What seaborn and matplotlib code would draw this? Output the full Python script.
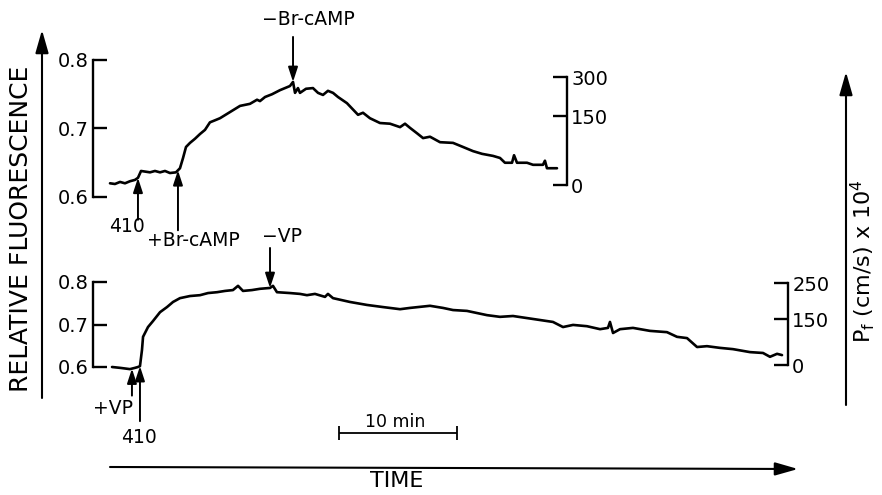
import numpy as np
import matplotlib
matplotlib.use('Agg')
import matplotlib.pyplot as plt
import seaborn as sns

sns.set_theme(style='white')
plt.rcParams['font.family'] = ['DejaVu Sans']
plt.rcParams['text.color'] = 'black'
plt.rcParams['xtick.color'] = 'black'
plt.rcParams['ytick.color'] = 'black'

# Top trace: Br-cAMP experiment (time in min, relative fluorescence)
top_time = [0.00, 0.42, 0.85, 1.27, 1.69, 2.12, 2.37, 2.63, 3.39, 3.81, 4.24, 4.66, 5.08, 5.59,
            5.93, 6.19, 6.44, 6.78, 7.20, 7.63, 8.05, 8.47, 8.90, 9.32, 10.17, 11.02, 11.86,
            12.46, 12.71, 13.14, 13.73, 14.41, 14.83, 15.25, 15.51, 15.68, 15.93, 16.10, 16.61,
            17.20, 17.63, 18.05, 18.47, 18.90, 19.32, 20.08, 21.02, 21.44, 22.03, 22.88, 23.73,
            24.58, 25.00, 25.42, 26.02, 26.53, 27.12, 27.97, 29.07, 29.92, 30.76, 31.53, 32.46,
            33.05, 33.47, 34.07, 34.24, 34.49, 35.34, 35.85, 36.69, 36.86, 37.03, 37.88]
top_fluor = [0.620, 0.619, 0.622, 0.620, 0.623, 0.625, 0.628, 0.638, 0.636, 0.638, 0.636, 0.638,
             0.635, 0.636, 0.642, 0.657, 0.673, 0.679, 0.685, 0.692, 0.698, 0.709, 0.712, 0.715,
             0.724, 0.733, 0.736, 0.742, 0.740, 0.746, 0.750, 0.756, 0.759, 0.762, 0.768, 0.752,
             0.759, 0.752, 0.758, 0.759, 0.752, 0.749, 0.755, 0.752, 0.746, 0.737, 0.720, 0.723,
             0.715, 0.708, 0.707, 0.702, 0.707, 0.701, 0.693, 0.686, 0.688, 0.680, 0.679, 0.673,
             0.667, 0.663, 0.660, 0.657, 0.650, 0.650, 0.661, 0.650, 0.650, 0.647, 0.647, 0.653,
             0.642, 0.642]

# Bottom trace: vasopressin experiment
low_time = [0.17, 0.85, 1.69, 2.12, 2.37, 2.54, 2.71, 2.80, 3.22, 3.64, 4.24, 4.83, 5.34, 5.93,
            6.78, 7.63, 8.31, 9.07, 9.75, 10.42, 10.85, 11.27, 12.03, 12.71, 13.56, 13.81, 14.15,
            15.25, 16.10, 16.69, 17.37, 18.22, 18.47, 18.90, 20.34, 21.78, 23.14, 24.58, 25.42,
            27.12, 28.22, 29.07, 30.25, 31.95, 33.05, 34.15, 35.85, 37.54, 38.39, 39.24, 40.42,
            41.53, 42.20, 42.37, 42.63, 43.22, 44.32, 45.76, 47.20, 48.05, 48.90, 49.75, 50.59,
            51.69, 52.80, 54.24, 55.34, 55.93, 56.53, 56.95]
low_fluor = [0.600, 0.598, 0.595, 0.598, 0.600, 0.602, 0.640, 0.671, 0.694, 0.708, 0.729, 0.741,
             0.753, 0.762, 0.767, 0.769, 0.774, 0.776, 0.779, 0.781, 0.791, 0.779, 0.781, 0.784,
             0.786, 0.791, 0.776, 0.774, 0.772, 0.769, 0.772, 0.765, 0.772, 0.762, 0.753, 0.746,
             0.741, 0.736, 0.739, 0.744, 0.739, 0.734, 0.732, 0.722, 0.718, 0.720, 0.713, 0.706,
             0.694, 0.699, 0.696, 0.689, 0.692, 0.706, 0.680, 0.689, 0.692, 0.685, 0.682, 0.671,
             0.668, 0.647, 0.649, 0.645, 0.642, 0.635, 0.633, 0.624, 0.631, 0.628]

# Events (time in min)
top_events = [2.37, 5.76, 15.51]
top_labels = ['410', '+Br-cAMP', '\u2212Br-cAMP']
low_events = [1.86, 2.54, 13.56]
low_labels = ['+VP', '410', '\u2212VP']

# Fluorescence axis ticks and matching permeability scale (Pf, cm/s x 1e4)
fluor_ticks = [0.6, 0.7, 0.8]
top_pf_labels = ['0', '150', '300']
top_pf_pos = [0.6175, 0.718, 0.775]
low_pf_labels = ['0', '150', '250']
low_pf_pos = [0.6047, 0.7129, 0.7976]

# --- layout (pixel mapping of the original figure) ---
W, H = 882, 495
x0, px_min = 110, 11.8
top_y06, top_px = 197, 685
low_y06, low_px = 367, 425
xlim = (-x0 / px_min, (W - x0) / px_min)

fig = plt.figure(figsize=(W / 100, H / 100), dpi=100)
bg = fig.add_axes([0, 0, 1, 1])
bg.set_xlim(0, W)
bg.set_ylim(H, 0)
bg.axis('off')

ax_top = fig.add_axes([0, 0, 1, 1])
ax_low = fig.add_axes([0, 0, 1, 1])
ax_top.set_ylim(0.6 - (H - top_y06) / top_px, 0.6 + top_y06 / top_px)
ax_low.set_ylim(0.6 - (H - low_y06) / low_px, 0.6 + low_y06 / low_px)

sns.lineplot(x=top_time, y=top_fluor, ax=ax_top, color='black', lw=1.9, estimator=None)
sns.lineplot(x=low_time, y=low_fluor, ax=ax_low, color='black', lw=1.9, estimator=None)

bracket_left = (93 - x0) / px_min
brackets_right = [(567 - x0) / px_min, (788 - x0) / px_min]

for ax, pf_pos, pf_lab, xr in [(ax_top, top_pf_pos, top_pf_labels, brackets_right[0]),
                               (ax_low, low_pf_pos, low_pf_labels, brackets_right[1])]:
    ax.set_xlim(*xlim)
    ax.patch.set_alpha(0)
    ax.set_xticks([])
    ax.set_xlabel('')
    ax.set_ylabel('')
    for s in ['top', 'bottom', 'right']:
        ax.spines[s].set_visible(False)
    ax.spines['left'].set_position(('data', bracket_left))
    ax.spines['left'].set_bounds(0.6, 0.8)
    ax.spines['left'].set_linewidth(1.7)
    ax.spines['left'].set_color('black')
    ax.set_yticks(fluor_ticks)
    ax.set_yticklabels(['0.6', '0.7', '0.8'])
    ax.tick_params(axis='y', direction='in', length=10, width=1.7, labelsize=14,
                   pad=3, colors='black', left=True)

    axr = ax.twinx()
    axr.set_xlim(*xlim)
    axr.set_ylim(ax.get_ylim())
    axr.patch.set_alpha(0)
    axr.grid(False)
    for s in ['top', 'bottom', 'left']:
        axr.spines[s].set_visible(False)
    axr.spines['right'].set_position(('data', xr))
    axr.spines['right'].set_bounds(pf_pos[0], pf_pos[-1])
    axr.spines['right'].set_linewidth(1.7)
    axr.spines['right'].set_color('black')
    axr.set_yticks(pf_pos)
    axr.set_yticklabels(pf_lab)
    axr.tick_params(axis='y', direction='in', length=10, width=1.7, labelsize=14,
                    pad=3, colors='black', right=True)

# event arrows: (tail length px, label dx, label dy)
small_head = dict(arrowstyle='-|>,head_length=0.55,head_width=0.18', color='black',
                  lw=1.4, shrinkA=0, shrinkB=0, mutation_scale=16)
top_geom = [(-42, -11, -49), (-60, 15, -70), (45, 15, 62)]
low_geom = [(-27, -19, -40), (-55, -1, -71), (40, 12, 51)]

for ax, times, vals, evs, labs, geom in [
        (ax_top, top_time, top_fluor, top_events, top_labels, top_geom),
        (ax_low, low_time, low_fluor, low_events, low_labels, low_geom)]:
    for t, lab, (L, dx, dy) in zip(evs, labs, geom):
        v = np.interp(t, times, vals)
        ax.annotate('', xy=(t, v), xytext=(0, L), textcoords='offset pixels',
                    arrowprops=small_head)
        ax.annotate(lab, xy=(t, v), xytext=(dx, dy), textcoords='offset pixels',
                    ha='center', va='center', fontsize=13.5)

# 10 min scale bar
bar_y = 0.6 + (low_y06 - 433) / low_px
bar_t0 = (339 - x0) / px_min
ax_low.errorbar([bar_t0 + 5], [bar_y], xerr=[5], color='black', lw=1.3,
                capsize=5, capthick=1.3, fmt='none')
ax_low.annotate('10 min', xy=(bar_t0 + 5, bar_y), xytext=(-3, 11),
                textcoords='offset pixels', ha='center', va='center', fontsize=12.5)

# outer axes arrows and titles
big_head = dict(arrowstyle='-|>,head_length=0.7,head_width=0.2', color='black',
                lw=1.5, shrinkA=0, shrinkB=0, mutation_scale=20)
bg.annotate('', xy=(42, 30), xytext=(42, 398), arrowprops=big_head)
bg.annotate('', xy=(846, 72), xytext=(846, 405), arrowprops=big_head)
bg.annotate('', xy=(798, 469), xytext=(110, 467), arrowprops=big_head)
bg.text(21, 229, 'RELATIVE FLUORESCENCE', rotation=90, ha='center', va='center', fontsize=18)
bg.text(863, 261, r'P$_\mathregular{f}$ (cm/s) x 10$^\mathregular{4}$', rotation=90,
        ha='center', va='center', fontsize=16)
bg.text(397, 481, 'TIME', ha='center', va='center', fontsize=16)

fig.savefig('out.png', dpi=100, facecolor='white')
